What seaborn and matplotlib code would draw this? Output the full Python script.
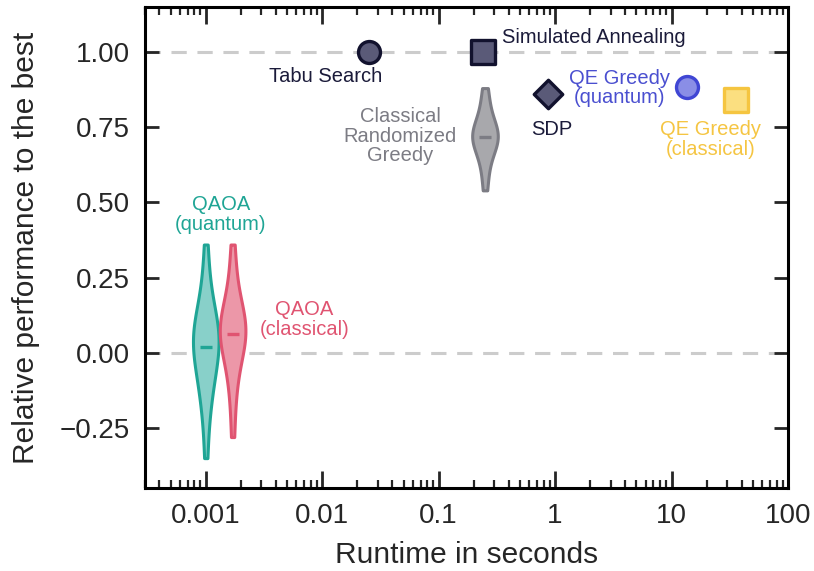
import numpy as np
import pandas as pd
import seaborn as sns
import matplotlib.pyplot as plt

# Violin samples (relative performance)
qaoa_quantum = [-0.35, -0.24, -0.18, -0.14, -0.11, -0.08, -0.06, -0.04, -0.02, 0.0, 0.01, 0.03,
                0.04, 0.05, 0.06, 0.07, 0.08, 0.10, 0.12, 0.14, 0.17, 0.21, 0.27, 0.36]
qaoa_classical = [-0.28, -0.17, -0.11, -0.06, -0.03, 0.0, 0.02, 0.04, 0.05, 0.06, 0.07, 0.08,
                  0.09, 0.10, 0.11, 0.13, 0.15, 0.18, 0.22, 0.28, 0.36]
greedy_random = [0.54, 0.60, 0.64, 0.67, 0.69, 0.70, 0.71, 0.72, 0.72, 0.73, 0.74, 0.75,
                 0.77, 0.80, 0.84, 0.88]
violin_names = ["QAOA\n(quantum)", "QAOA\n(classical)", "Classical\nRandomized\nGreedy"]
violin_runtime = [0.001, 0.0017, 0.25]
violin_samples = [qaoa_quantum, qaoa_classical, greedy_random]

# Single-point methods
point_names = ["Tabu Search", "Simulated Annealing", "SDP", "QE Greedy\n(quantum)", "QE Greedy\n(classical)"]
point_runtime = [0.025, 0.24, 0.87, 13.7, 36.0]
point_perf = [1.0, 1.0, 0.86, 0.883, 0.84]

# styling
violin_fill = ["#88d0c9", "#ec97a8", "#a8a8ac"]
violin_edge = ["#1fa595", "#e05471", "#7c7c84"]
violin_text = [(0.00135, 0.46, "center"), (0.0070, 0.11, "center"), (0.047, 0.72, "center")]
point_marker = ["o", "s", "D", "o", "s"]
point_size = [250, 280, 210, 250, 280]
point_face = ["#5a5a78", "#5a5a78", "#5a5a78", "#8a8ee6", "#fbdf80"]
point_edge = ["#12122e", "#12122e", "#12122e", "#4046d4", "#f5c540"]
point_textcol = ["#1b1b3a", "#1b1b3a", "#1b1b3a", "#4a4fd0", "#f5c542"]
point_text = [(0.0108, 0.917, "center"), (0.35, 1.047, "left"), (0.93, 0.743, "center"),
              (3.58, 0.88, "center"), (21.7, 0.71, "center")]

sns.set_style("ticks")
plt.rcParams['font.family'] = ['Liberation Sans', 'DejaVu Sans']

fig = plt.figure(figsize=(8.14, 5.71), dpi=100)
ax = fig.add_axes([0.178, 0.145, 0.79, 0.843])
ax.set_xscale('log')

ax.axhline(1.0, color='#cccccc', lw=2.2, ls=(0, (5, 3.5)), zorder=0)
ax.axhline(0.0, color='#cccccc', lw=2.2, ls=(0, (5, 3.5)), zorder=0)

for i, name in enumerate(violin_names):
    df = pd.DataFrame({"runtime": violin_runtime[i], "perf": violin_samples[i]})
    sns.violinplot(data=df, x="runtime", y="perf", native_scale=True, orient="x",
                   color=violin_fill[i], linecolor=violin_edge[i], saturation=1,
                   linewidth=2.2, inner=None, cut=0, width=0.22, ax=ax)
    ax.plot([violin_runtime[i]], [np.mean(violin_samples[i])], marker='_', ms=8, mew=2.4,
            color=violin_edge[i], zorder=5)
    tx, ty, ha = violin_text[i]
    ax.text(tx, ty, name, color=violin_edge[i], fontsize=14.5, ha=ha, va='center',
            linespacing=1.05)

for i, name in enumerate(point_names):
    sns.scatterplot(x=[point_runtime[i]], y=[point_perf[i]], marker=point_marker[i],
                    s=point_size[i], color=point_face[i], edgecolor=point_edge[i],
                    linewidth=2.4, ax=ax, zorder=5)
    tx, ty, ha = point_text[i]
    ax.text(tx, ty, name, color=point_textcol[i], fontsize=14.5, ha=ha, va='center',
            linespacing=1.05)

ax.set_xlim(3e-4, 100)
ax.set_ylim(-0.45, 1.15)
ax.set_xticks([0.001, 0.01, 0.1, 1, 10, 100])
ax.set_xticklabels(["0.001", "0.01", "0.1", "1", "10", "100"])
ax.set_yticks([-0.25, 0.0, 0.25, 0.5, 0.75, 1.0])
ax.set_yticklabels(["\u22120.25", "0.00", "0.25", "0.50", "0.75", "1.00"])

for s in ax.spines.values():
    s.set_linewidth(2.2)
    s.set_color('black')
ax.tick_params(axis='x', which='major', direction='in', length=12, width=2, top=True,
               labelsize=20, pad=11)
ax.tick_params(axis='x', which='minor', direction='in', length=6, width=1.6, top=True)
ax.tick_params(axis='y', which='major', direction='in', length=10, width=2, right=True,
               labelsize=20, pad=11)

ax.set_xlabel("Runtime in seconds", fontsize=21.5, labelpad=8)
ax.set_ylabel("Relative performance to the best", fontsize=21.5, labelpad=14)

fig.savefig("out.png", dpi=100)
